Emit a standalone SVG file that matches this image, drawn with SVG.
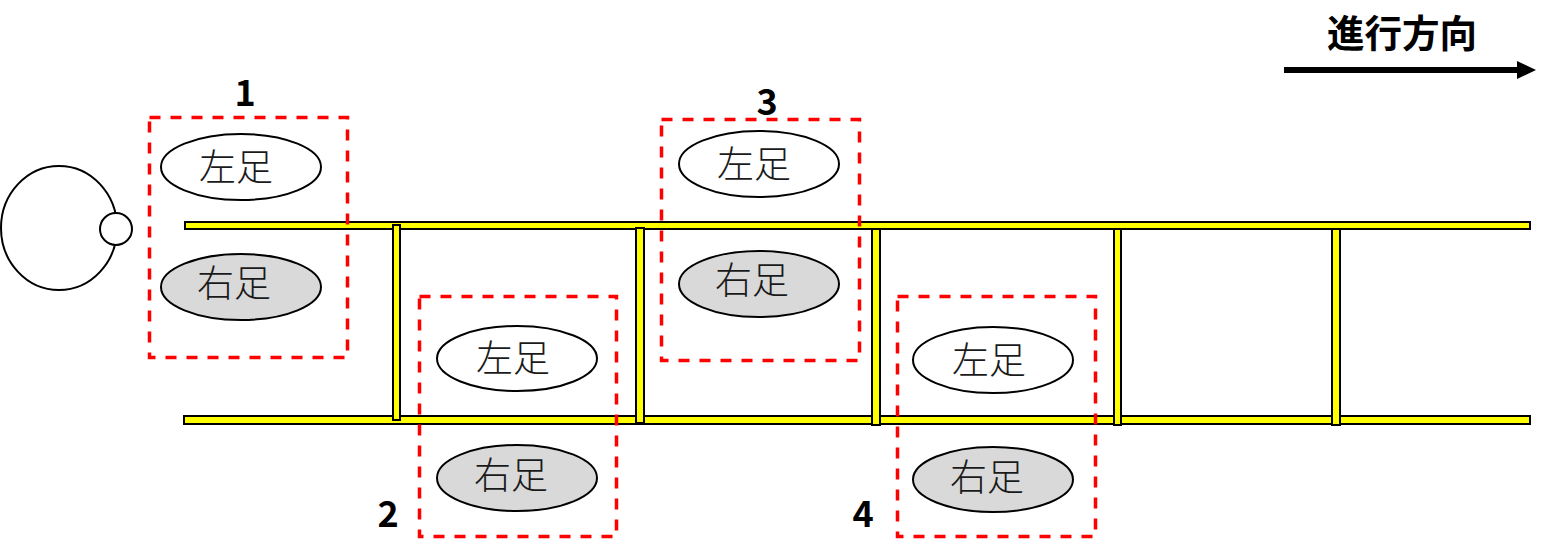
<svg xmlns="http://www.w3.org/2000/svg" width="1554" height="560" viewBox="0 0 1554 560">
<style>
text{font-family:"Noto Sans CJK JP","Noto Sans CJK SC",sans-serif;fill:#000}
.foot{font-size:37px;font-weight:300;text-anchor:middle;fill:#1a1a1a}
.num{font-size:36px;font-weight:700;text-anchor:middle}
.title{font-size:37.500px;font-weight:700;text-anchor:middle}
.e{stroke:#000;stroke-width:2;fill:#fff}
.g{fill:#d9d9d9}
.r{fill:#ff0;stroke:#000;stroke-width:2}
.d{fill:none;stroke:#f00;stroke-width:3.500;stroke-dasharray:11 10}
</style>
<defs><marker id="ah" markerUnits="userSpaceOnUse" markerWidth="19" markerHeight="18" refX="0" refY="9" orient="auto"><path d="M0 0L19 9L0 18Z" fill="#000"/></marker></defs>
<g id="connectors">
<line x1="1284" y1="70" x2="1517" y2="70" stroke="#000" stroke-width="6" marker-end="url(#ah)"/>
</g>
<g id="ladder">
<rect class="r" x="185" y="222" width="1345" height="7"/>
<rect class="r" x="184" y="416" width="1346" height="8"/>
<rect class="r" x="393" y="225" width="7" height="195"/>
<rect class="r" x="636" y="228" width="8" height="195"/>
<rect class="r" x="872" y="229" width="8" height="196"/>
<rect class="r" x="1114" y="229" width="7" height="196"/>
<rect class="r" x="1332" y="229" width="8" height="196"/>
</g>
<g id="head"><ellipse class="e" cx="59" cy="228" rx="58" ry="62"/></g>
<g id="nose"><circle class="e" cx="116" cy="229" r="16"/></g>
<g id="step1">
<rect class="d" x="149.500" y="117.500" width="198" height="240"/>
<ellipse class="e" cx="241" cy="167" rx="80" ry="33"/><text class="foot" x="236" y="181">左足</text>
<ellipse class="e g" cx="241" cy="287" rx="80" ry="33"/><text class="foot" x="234" y="297">右足</text>
<text class="num" x="245" y="106">1</text>
</g>
<g id="step2">
<rect class="d" x="419.500" y="296.500" width="197" height="240"/>
<ellipse class="e" cx="517" cy="358.500" rx="80" ry="32.500"/><text class="foot" x="513" y="372">左足</text>
<ellipse class="e g" cx="517" cy="478" rx="80" ry="33"/><text class="foot" x="511" y="489">右足</text>
<text class="num" x="388" y="527">2</text>
</g>
<g id="step3">
<rect class="d" x="661.500" y="119.500" width="198" height="241"/>
<ellipse class="e" cx="759" cy="164" rx="80" ry="33"/><text class="foot" x="754" y="178">左足</text>
<ellipse class="e g" cx="759" cy="284" rx="80" ry="33"/><text class="foot" x="752" y="294">右足</text>
<text class="num" x="767" y="115">3</text>
</g>
<g id="step4">
<rect class="d" x="897.500" y="296.500" width="198" height="240"/>
<ellipse class="e" cx="993" cy="360" rx="80" ry="33"/><text class="foot" x="989" y="374">左足</text>
<ellipse class="e g" cx="993" cy="479.500" rx="80" ry="32.500"/><text class="foot" x="987" y="491">右足</text>
<text class="num" x="863" y="527">4</text>
</g>
<g id="direction"><text class="title" x="1402" y="47">進行方向</text></g>
</svg>
